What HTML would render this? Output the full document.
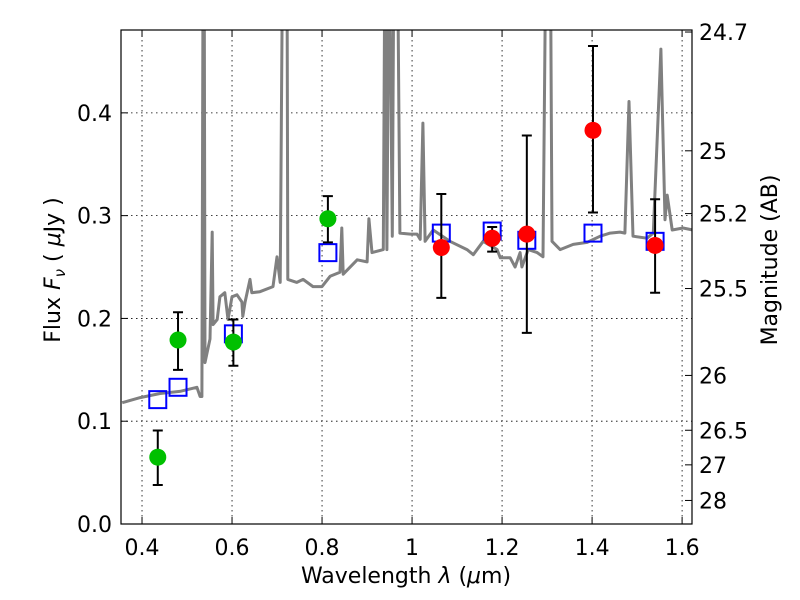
<!DOCTYPE html>
<html><head><meta charset="utf-8"><style>
html,body{margin:0;padding:0;background:#fff;}
svg{display:block;font-family:"DejaVu Sans","Liberation Sans",sans-serif;}
</style></head><body>
<svg id="chart" width="800" height="600" viewBox="0 0 800 600" xmlns="http://www.w3.org/2000/svg">
<defs><clipPath id="plotclip"><rect x="121" y="30" width="571" height="494"/></clipPath></defs>
<rect x="0" y="0" width="800" height="600" fill="#fff"/>
<g id="grid"></g>
<g id="spec" clip-path="url(#plotclip)"></g>
<g id="marks" clip-path="url(#plotclip)"></g>
<rect x="121" y="30" width="571" height="494" fill="none" stroke="#000" stroke-width="1.2"/>
<g id="axes"></g>
<text x="406" y="583" text-anchor="middle" font-size="22">Wavelength  <tspan font-style="italic">λ</tspan> (<tspan font-style="italic">μ</tspan>m)</text>
<text transform="translate(60,270) rotate(-90)" text-anchor="middle" font-size="22">Flux  <tspan font-style="italic">F</tspan><tspan font-style="italic" font-size="15" dy="5">ν</tspan><tspan dy="-5">  ( </tspan><tspan font-style="italic">μ</tspan>Jy )</text>
<text transform="translate(777,260) rotate(-90)" text-anchor="middle" font-size="22">Magnitude (AB)</text>
</svg>
<script>
const xTicks = [0.4, 0.6, 0.8, 1.0, 1.2, 1.4, 1.6];
const xTickLabels = ["0.4", "0.6", "0.8", "1", "1.2", "1.4", "1.6"];
const yTicks = [0.0, 0.1, 0.2, 0.3, 0.4];
const yTickLabels = ["0.0", "0.1", "0.2", "0.3", "0.4"];
const magTicks = [24.7, 25, 25.2, 25.5, 26, 26.5, 27, 28];
const magTickLabels = ["24.7", "25", "25.2", "25.5", "26", "26.5", "27", "28"];
const specWave = [0.356,0.396,0.440,0.484,0.522,0.529,0.533,0.536,0.538,0.540,0.551,0.556,0.558,0.567,0.573,0.584,0.591,0.600,0.611,0.622,0.624,0.629,0.640,0.644,0.662,0.691,0.700,0.707,0.713,0.722,0.724,0.744,0.758,0.780,0.800,0.818,0.840,0.844,0.847,0.878,0.900,0.904,0.911,0.936,0.940,0.944,0.949,0.956,0.960,0.967,0.973,0.996,1.011,1.018,1.024,1.029,1.047,1.084,1.122,1.136,1.158,1.189,1.196,1.218,1.229,1.240,1.244,1.258,1.278,1.291,1.298,1.307,1.311,1.329,1.358,1.389,1.418,1.440,1.462,1.473,1.482,1.491,1.522,1.536,1.553,1.562,1.567,1.578,1.602,1.624];
const specFlux = [0.118,0.123,0.127,0.129,0.133,0.124,0.124,0.6,0.6,0.157,0.180,0.284,0.194,0.199,0.221,0.225,0.199,0.221,0.223,0.216,0.202,0.216,0.238,0.225,0.226,0.231,0.260,0.235,0.6,0.6,0.238,0.235,0.238,0.231,0.231,0.241,0.245,0.288,0.243,0.257,0.255,0.297,0.264,0.267,0.6,0.267,0.6,0.280,0.6,0.6,0.283,0.282,0.282,0.277,0.390,0.275,0.286,0.275,0.267,0.262,0.275,0.267,0.259,0.259,0.250,0.264,0.250,0.267,0.264,0.260,0.6,0.6,0.275,0.267,0.272,0.274,0.280,0.283,0.284,0.283,0.411,0.280,0.278,0.283,0.462,0.296,0.320,0.286,0.288,0.286];
const modelWave = [0.435,0.480,0.603,0.813,1.065,1.178,1.255,1.402,1.540];
const modelFlux = [0.121,0.133,0.185,0.264,0.283,0.285,0.276,0.283,0.275];
const greenWave = [0.435,0.480,0.603,0.813];
const greenFlux = [0.065,0.179,0.177,0.297];
const greenHi = [0.091,0.206,0.199,0.319];
const greenLo = [0.038,0.150,0.154,0.274];
const redWave = [1.065,1.178,1.255,1.402,1.540];
const redFlux = [0.269,0.278,0.282,0.383,0.271];
const redHi = [0.321,0.289,0.378,0.465,0.316];
const redLo = [0.220,0.265,0.186,0.303,0.225];

const NS = "http://www.w3.org/2000/svg";
const X0 = 121, X1 = 692, Y0 = 524, Y1 = 30;
const XMIN = 0.3533, XMAX = 1.622, YMIN = 0, YMAX = 0.4806;
function xs(w){ return X0 + (w - XMIN) / (XMAX - XMIN) * (X1 - X0); }
function ys(f){ return Y0 - (f - YMIN) / (YMAX - YMIN) * (Y0 - Y1); }
function magToFlux(m){ return Math.pow(10, (23.9 - m) / 2.5); }
function mk(tag, attrs, parent){ const e = document.createElementNS(NS, tag); for (const k in attrs) e.setAttribute(k, attrs[k]); parent.appendChild(e); return e; }

const grid = document.getElementById('grid');
const axes = document.getElementById('axes');
xTicks.forEach((t, i) => {
  const x = xs(t);
  const g = mk('line', {x1:x, x2:x, y1:Y1, y2:Y0, stroke:'#000', 'stroke-width':0.8, 'stroke-dasharray':'1.5,3.5'}, grid);
  
  
  const t1 = mk('line', {x1:x, x2:x, y1:Y0, y2:Y0-7, stroke:'#000', 'stroke-width':1}, axes);
  
  
  const t2 = mk('line', {x1:x, x2:x, y1:Y1, y2:Y1+7, stroke:'#000', 'stroke-width':1}, axes);
  
  
  const lb = mk('text', {x:x, y:555, 'text-anchor':'middle', 'font-size':22}, axes);
  lb.textContent = xTickLabels[i];
  
  
});
yTicks.forEach((t, i) => {
  const y = ys(t);
  const g = mk('line', {x1:X0, x2:X1, y1:y, y2:y, stroke:'#000', 'stroke-width':0.8, 'stroke-dasharray':'1.5,3.5'}, grid);
  
  
  const t1 = mk('line', {x1:X0, x2:X0+7, y1:y, y2:y, stroke:'#000', 'stroke-width':1}, axes);
  
  
  const lb = mk('text', {x:112, y:y+8, 'text-anchor':'end', 'font-size':22}, axes);
  lb.textContent = yTickLabels[i];
  
  
});
magTicks.forEach((m, i) => {
  const y = ys(magToFlux(m));
  const t1 = mk('line', {x1:X1, x2:X1-7, y1:y, y2:y, stroke:'#000', 'stroke-width':1}, axes);
  
  
  const lb = mk('text', {x:699, y:y+8, 'text-anchor':'start', 'font-size':22}, axes);
  lb.textContent = magTickLabels[i];
  
  
});

const spec = document.getElementById('spec');
let d = '';
specWave.forEach((w, i) => { d += (i ? 'L' : 'M') + xs(w).toFixed(1) + ',' + ys(specFlux[i]).toFixed(1); });
const sp = mk('path', {d:d, fill:'none', stroke:'#808080', 'stroke-width':3, 'stroke-linejoin':'round'}, spec);



const marks = document.getElementById('marks');
modelWave.forEach((w, i) => {
  const r = mk('rect', {x:xs(w)-8.5, y:ys(modelFlux[i])-8.5, width:17, height:17, fill:'none', stroke:'#0000ff', 'stroke-width':2}, marks);
  
  
});
function errbars(waves, lo, hi){
  waves.forEach((w, i) => {
    const x = xs(w), yl = ys(lo[i]), yh = ys(hi[i]);
    const e = mk('path', {d:`M${x},${yl}L${x},${yh}M${x-5},${yl}L${x+5},${yl}M${x-5},${yh}L${x+5},${yh}`, stroke:'#000', 'stroke-width':2, fill:'none'}, marks);
    
    
  });
}
errbars(greenWave, greenLo, greenHi);
errbars(redWave, redLo, redHi);
greenWave.forEach((w, i) => {
  const c = mk('circle', {cx:xs(w), cy:ys(greenFlux[i]), r:8.5, fill:'#00c000'}, marks);
  
  
});
redWave.forEach((w, i) => {
  const c = mk('circle', {cx:xs(w), cy:ys(redFlux[i]), r:8.5, fill:'#ff0000'}, marks);
  
  
});
</script>
</body></html>
